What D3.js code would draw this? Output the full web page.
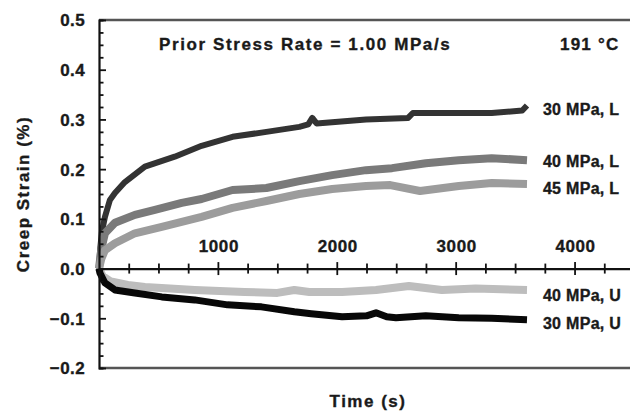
<!DOCTYPE html>
<meta charset="utf-8">
<style>
  body { margin: 0; background: #fff; }
  text { font-family: "Liberation Sans", Arial, sans-serif; font-weight: bold; fill: #1a1a1a; stroke: #1a1a1a; stroke-width: 0.35px; }
</style>
<svg width="630" height="413"></svg>
<script src="https://d3js.org/d3.v7.min.js"></script>
<script>

var svg = d3.select("svg");

// creep strain curves (time in s, strain in %)
var t30L = [0, 10, 25, 50, 92, 134, 218, 386, 637, 863, 1123, 1408, 1685, 1760, 1794, 1830, 2246, 2600, 2640, 3026, 3303, 3560, 3600];
var v30L = [0, 0.04, 0.075, 0.104, 0.138, 0.152, 0.174, 0.205, 0.225, 0.247, 0.265, 0.275, 0.285, 0.29, 0.303, 0.292, 0.300, 0.303, 0.313, 0.313, 0.313, 0.318, 0.328];

var t40L = [0, 20, 50, 134, 302, 470, 696, 863, 1123, 1408, 1685, 1961, 2246, 2465, 2749, 3026, 3303, 3600];
var v40L = [0, 0.04, 0.071, 0.092, 0.108, 0.118, 0.132, 0.14, 0.158, 0.162, 0.176, 0.188, 0.198, 0.202, 0.212, 0.218, 0.222, 0.218];

var t45L = [0, 20, 50, 134, 302, 528, 863, 1123, 1408, 1685, 1961, 2246, 2450, 2700, 3026, 3303, 3600];
var v45L = [0, 0.02, 0.037, 0.051, 0.071, 0.084, 0.104, 0.122, 0.136, 0.15, 0.16, 0.166, 0.168, 0.156, 0.166, 0.172, 0.170];

var t40U = [0, 30, 100, 243, 386, 805, 1224, 1500, 1643, 1769, 2045, 2330, 2607, 2884, 3168, 3600];
var v40U = [0, -0.015, -0.026, -0.033, -0.037, -0.043, -0.047, -0.049, -0.043, -0.047, -0.047, -0.043, -0.035, -0.043, -0.040, -0.043];

var t30U = [0, 8, 50, 134, 302, 528, 805, 1081, 1366, 1643, 1785, 2045, 2250, 2330, 2420, 2498, 2749, 3026, 3303, 3600];
var v30U = [0, -0.009, -0.029, -0.043, -0.049, -0.057, -0.063, -0.073, -0.077, -0.087, -0.091, -0.097, -0.095, -0.089, -0.097, -0.099, -0.095, -0.099, -0.100, -0.103];

var seriesNames = ["30 MPa, L", "40 MPa, L", "45 MPa, L", "40 MPa, U", "30 MPa, U"];
var labelValues = [0.32, 0.215, 0.162, -0.053, -0.110];

var xTicks = [1000, 2000, 3000, 4000];
var yTicks = [-0.2, -0.1, 0.0, 0.1, 0.2, 0.3, 0.4, 0.5];

var x = d3.scaleLinear().domain([0, 4500]).range([99, 634]);
var y = d3.scaleLinear().domain([-0.2, 0.5]).range([368, 20]);

var series = [
  {name: seriesNames[0], t: t30L, v: v30L, color: "#333333", w: 6},
  {name: seriesNames[1], t: t40L, v: v40L, color: "#7a7a7a", w: 8},
  {name: seriesNames[2], t: t45L, v: v45L, color: "#9c9c9c", w: 8},
  {name: seriesNames[3], t: t40U, v: v40U, color: "#bdbdbd", w: 8},
  {name: seriesNames[4], t: t30U, v: v30U, color: "#080808", w: 7}
];

var line = d3.line()
    .x(function(d) { return x(d[0]); })
    .y(function(d) { return y(d[1]); });

// frame
svg.append("line").attr("x1", 99).attr("x2", 640).attr("y1", y(0.5)).attr("y2", y(0.5))
    .attr("stroke", "#555").attr("stroke-width", 2.5);
svg.append("line").attr("x1", 99).attr("x2", 640).attr("y1", y(-0.2)).attr("y2", y(-0.2))
    .attr("stroke", "#555").attr("stroke-width", 2.5);

// curves
svg.append("g").selectAll("path")
    .data(series)
    .enter().append("path")
    .attr("d", function(s) { return line(d3.zip(s.t, s.v)); })
    .attr("fill", "none")
    .attr("stroke", function(s) { return s.color; })
    .attr("stroke-width", function(s) { return s.w; })
    .attr("stroke-linejoin", "round");

// y axis (ticks pointing inwards)
var yAxis = d3.axisRight(y)
    .tickValues(d3.range(-0.2, 0.5001, 0.025))
    .tickSize(4.5)
    .tickFormat("");
var yg = svg.append("g").attr("transform", "translate(99,0)").call(yAxis);
yg.selectAll(".tick line")
    .attr("x2", function(d) { return Math.abs(Math.round(d * 40) % 4) === 0 ? 7 : 4.5; })
    .attr("stroke", "#111").attr("stroke-width", 1.8);
yg.select(".domain").attr("stroke", "#111").attr("stroke-width", 2.2);

svg.append("g").selectAll("text")
    .data(yTicks)
    .enter().append("text")
    .attr("x", 85)
    .attr("y", function(d) { return y(d); })
    .attr("dy", "0.38em")
    .attr("text-anchor", "end")
    .style("font-size", "17px")
    .style("letter-spacing", "0.4px")
    .text(function(d) { return d3.format(".1f")(d); });

// x axis on the zero line, ticks crossing it
var xAxis = d3.axisBottom(x)
    .tickValues(d3.range(250, 4500, 250))
    .tickSize(0)
    .tickFormat("");
var xg = svg.append("g").attr("transform", "translate(0," + y(0) + ")").call(xAxis);
xg.select(".domain").attr("stroke", "#111").attr("stroke-width", 2.2);
xg.selectAll(".tick line")
    .attr("y1", function(d) { return d % 1000 === 0 ? -6.5 : -5; })
    .attr("y2", function(d) { return d % 1000 === 0 ? 6.5 : 5; })
    .attr("stroke", "#111").attr("stroke-width", 1.8);

svg.append("g").selectAll("text")
    .data(xTicks)
    .enter().append("text")
    .attr("x", function(d) { return x(d) + 1; })
    .attr("y", 252)
    .attr("text-anchor", "middle")
    .style("font-size", "17px")
    .style("letter-spacing", "0.6px")
    .text(function(d) { return d; });

// series labels
svg.append("g").selectAll("text")
    .data(series)
    .enter().append("text")
    .attr("x", x(3734))
    .attr("y", function(s, i) { return y(labelValues[i]); })
    .attr("dy", "0.36em")
    .style("font-size", "16px")
    .style("letter-spacing", "0.3px")
    .text(function(s) { return s.name; });

// annotations
svg.append("text").attr("x", 159).attr("y", 50)
    .style("font-size", "17px").style("letter-spacing", "1.6px")
    .text("Prior Stress Rate = 1.00 MPa/s");
svg.append("text").attr("x", 560).attr("y", 50)
    .style("font-size", "17px").style("letter-spacing", "1.2px")
    .text("191 °C");

// axis titles
svg.append("text")
    .attr("transform", "translate(29," + ((y(0.5) + y(-0.2)) / 2) + ") rotate(-90)")
    .attr("text-anchor", "middle")
    .style("font-size", "17px").style("letter-spacing", "1.5px")
    .text("Creep Strain (%)");
svg.append("text")
    .attr("x", 368).attr("y", 407)
    .attr("text-anchor", "middle")
    .style("font-size", "17px").style("letter-spacing", "1.5px")
    .text("Time (s)");

</script>
